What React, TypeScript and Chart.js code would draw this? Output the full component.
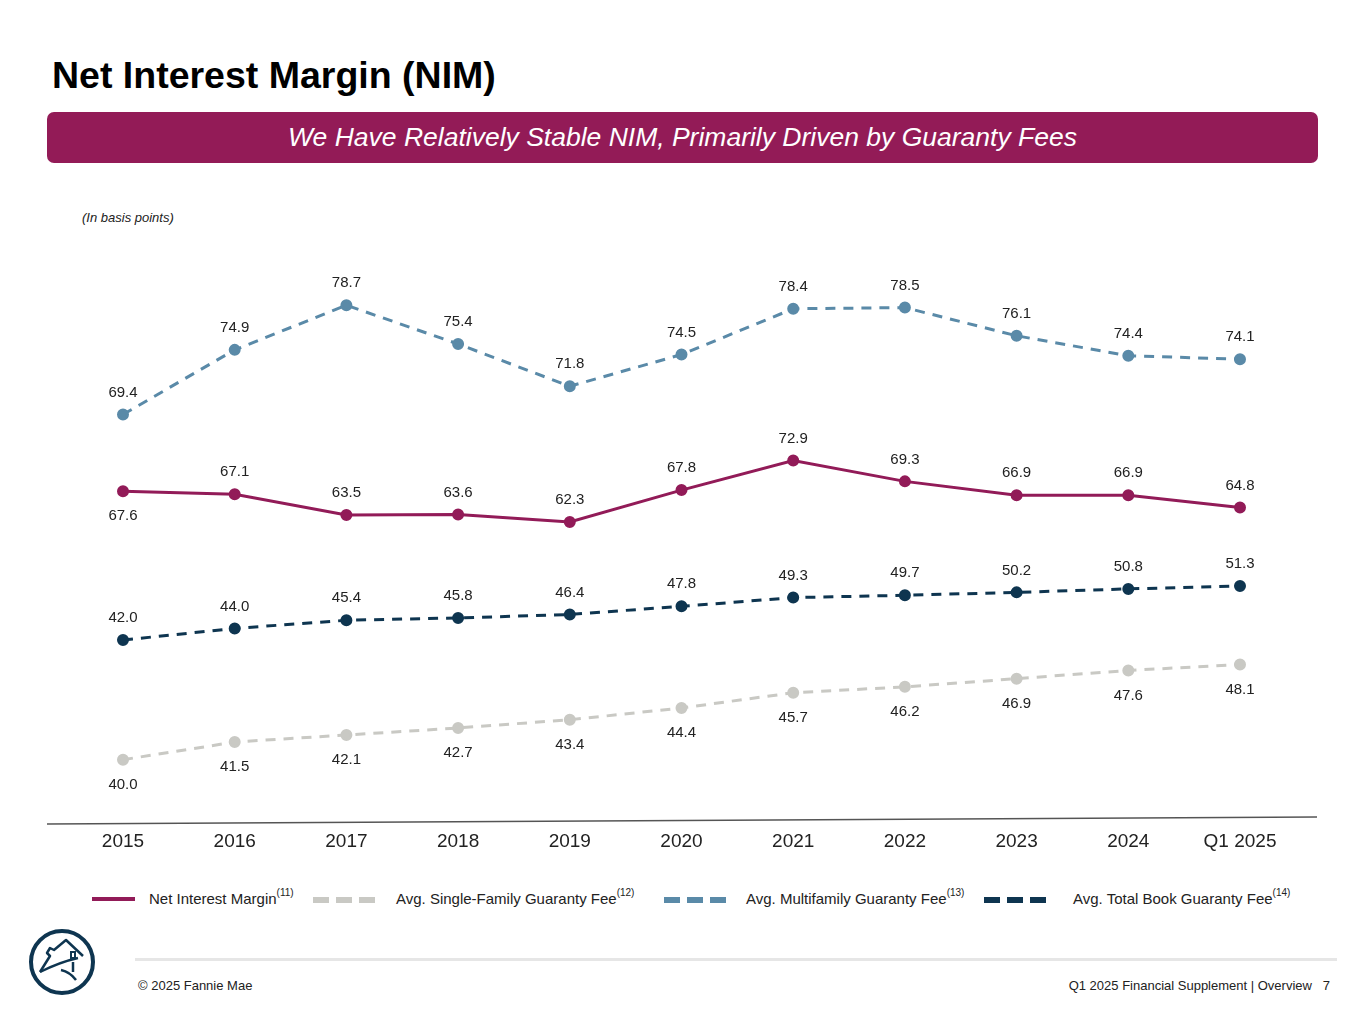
import React, { useEffect, useRef } from "react";
import { Chart, registerables } from "chart.js";

Chart.register(...registerables);

const categories = ["2015", "2016", "2017", "2018", "2019", "2020", "2021", "2022", "2023", "2024", "Q1 2025"];
const netInterestMargin = [67.6, 67.1, 63.5, 63.6, 62.3, 67.8, 72.9, 69.3, 66.9, 66.9, 64.8];
const singleFamilyFee = [40.0, 41.5, 42.1, 42.7, 43.4, 44.4, 45.7, 46.2, 46.9, 47.6, 48.1];
const multifamilyFee = [69.4, 74.9, 78.7, 75.4, 71.8, 74.5, 78.4, 78.5, 76.1, 74.4, 74.1];
const totalBookFee = [42.0, 44.0, 45.4, 45.8, 46.4, 47.8, 49.3, 49.7, 50.2, 50.8, 51.3];
// label placement per series: "above" | "below"
const nimLabelPos = ["below", "above", "above", "above", "above", "above", "above", "above", "above", "above", "above"];

const C_NIM = "#921B58";
const C_SF = "#C9C9C4";
const C_MF = "#5A8AA8";
const C_TB = "#0E3550";
const FONT = "Arial, 'Liberation Sans', Helvetica, sans-serif";

const labelPlugin = {
  id: "valueLabels",
  afterDatasetsDraw(chart: any) {
    const ctx = chart.ctx;
    ctx.save();
    ctx.font = `15px ${FONT}`;
    ctx.fillStyle = "#222";
    ctx.textAlign = "center";
    ctx.textBaseline = "middle";
    chart.data.datasets.forEach((ds: any, di: number) => {
      const meta = chart.getDatasetMeta(di);
      meta.data.forEach((pt: any, i: number) => {
        const pos = ds.labelPos[i];
        const dy = pos === "above" ? -22 : 25;
        ctx.fillText(Number(ds.data[i]).toFixed(1), pt.x, pt.y + dy);
      });
    });
    ctx.restore();
  },
  beforeDraw(chart: any) {
    const ctx = chart.ctx;
    ctx.save();
    ctx.strokeStyle = "#555";
    ctx.lineWidth = 1.6;
    ctx.beginPath();
    ctx.moveTo(47, 594);
    ctx.lineTo(1317, 587);
    ctx.stroke();
    ctx.restore();
  },
};

function LegendSwatch({ color, dashed }: { color: string; dashed: boolean }) {
  if (!dashed) {
    return <div style={{ width: 43, height: 4, background: color }} />;
  }
  return (
    <div style={{ display: "flex", gap: 7, width: 63 }}>
      <div style={{ width: 16, height: 6, background: color }} />
      <div style={{ width: 16, height: 6, background: color }} />
      <div style={{ width: 16, height: 6, background: color }} />
    </div>
  );
}

const legendItems = [
  { label: "Net Interest Margin", sup: "(11)", color: C_NIM, dashed: false, x: 92, tx: 149 },
  { label: "Avg. Single-Family Guaranty Fee", sup: "(12)", color: C_SF, dashed: true, x: 313, tx: 396 },
  { label: "Avg. Multifamily Guaranty Fee", sup: "(13)", color: C_MF, dashed: true, x: 664, tx: 746 },
  { label: "Avg. Total Book Guaranty Fee", sup: "(14)", color: C_TB, dashed: true, x: 984, tx: 1073 },
];

export default function App() {
  const canvasRef = useRef<HTMLCanvasElement | null>(null);

  useEffect(() => {
    const canvas = canvasRef.current;
    if (!canvas) return;
    const mk = (label: string, data: number[], color: string, axis: string, dash: number[], pos: string[]) => ({
      label,
      data,
      yAxisID: axis,
      borderColor: color,
      backgroundColor: color,
      pointBackgroundColor: color,
      pointBorderColor: color,
      borderWidth: 3,
      borderDash: dash,
      pointRadius: 4.5,
      pointHoverRadius: 4.5,
      tension: 0,
      fill: false,
      labelPos: pos,
    });
    const chart = new Chart(canvas, {
      type: "line",
      data: {
        labels: categories,
        datasets: [
          mk("Avg. Single-Family Guaranty Fee", singleFamilyFee, C_SF, "yB", [10, 8], singleFamilyFee.map(() => "below")),
          mk("Avg. Multifamily Guaranty Fee", multifamilyFee, C_MF, "yB", [10, 8], multifamilyFee.map(() => "above")),
          mk("Avg. Total Book Guaranty Fee", totalBookFee, C_TB, "yA", [10, 8], totalBookFee.map(() => "above")),
          mk("Net Interest Margin", netInterestMargin, C_NIM, "yA", [], nimLabelPos),
        ] as any,
      },
      options: {
        animation: false,
        responsive: false,
        maintainAspectRatio: false,
        layout: { padding: { left: 123, right: 125, top: 21, bottom: 6 } },
        plugins: { legend: { display: false }, tooltip: { enabled: false } },
        scales: {
          x: {
            type: "category",
            offset: false,
            grid: { display: false, drawTicks: false },
            border: { display: false },
            ticks: { color: "#222", font: { size: 19, family: FONT }, padding: 11, maxRotation: 0, autoSkip: false },
          },
          yA: { type: "linear", display: false, min: 11.17, max: 108.94 },
          yB: { type: "linear", display: false, min: 34.93, max: 83.32 },
        },
      },
      plugins: [labelPlugin],
    });
    return () => chart.destroy();
  }, []);

  return (
    <div style={{ position: "absolute", left: 0, top: 0, width: 1365, height: 1024, background: "#fff", fontFamily: FONT, overflow: "hidden" }}>
      <div style={{ position: "absolute", left: 52, top: 51, fontSize: 37.5, fontWeight: "bold", color: "#000", lineHeight: "48px" }}>
        Net Interest Margin (NIM)
      </div>
      <div
        style={{
          position: "absolute", left: 47, top: 112, width: 1271, height: 51, background: "#931B57", borderRadius: 7,
          color: "#fff", fontStyle: "italic", fontSize: 26.5, display: "flex", alignItems: "center", justifyContent: "center",
        }}
      >
        We Have Relatively Stable NIM, Primarily Driven by Guaranty Fees
      </div>
      <div style={{ position: "absolute", left: 82, top: 210, fontSize: 13, fontStyle: "italic", color: "#222" }}>
        (In basis points)
      </div>
      <canvas ref={canvasRef} width={1365} height={640} style={{ position: "absolute", left: 0, top: 230, width: 1365, height: 640 }} />
      {legendItems.map((it) => (
        <React.Fragment key={it.label}>
          <div style={{ position: "absolute", left: it.x, top: 897 }}>
            <LegendSwatch color={it.color} dashed={it.dashed} />
          </div>
          <div style={{ position: "absolute", left: it.tx, top: 890, fontSize: 15, color: "#222", whiteSpace: "nowrap" }}>
            {it.label}
            <sup style={{ fontSize: 10, verticalAlign: "top", position: "relative", top: -3 }}>{it.sup}</sup>
          </div>
        </React.Fragment>
      ))}
      <svg style={{ position: "absolute", left: 28, top: 928 }} width={70} height={70} viewBox="0 0 70 70">
        <circle cx={34} cy={34} r={31} fill="none" stroke={C_TB} strokeWidth={4} />
        <path d="M12 44 L22 28 L19 25 L22 20 L26 22 L38 12 L55 28" fill="none" stroke={C_TB} strokeWidth={2.5} strokeLinejoin="round" />
        <path d="M12 44 Q32 34 50 30" fill="none" stroke={C_TB} strokeWidth={2.5} />
        <path d="M33 42 Q42 44 48 52" fill="none" stroke={C_TB} strokeWidth={2.5} />
        <rect x={43} y={24} width={4} height={6} fill="none" stroke={C_TB} strokeWidth={2} />
        <path d="M45 34 L45 44" fill="none" stroke={C_TB} strokeWidth={2.5} />
      </svg>
      <div style={{ position: "absolute", left: 135, top: 958, width: 1202, height: 3, background: "#e6e6e6" }} />
      <div style={{ position: "absolute", left: 138, top: 978, fontSize: 13, color: "#222" }}>© 2025 Fannie Mae</div>
      <div style={{ position: "absolute", right: 35, top: 978, fontSize: 13, color: "#222", whiteSpace: "pre" }}>
        Q1 2025 Financial Supplement | Overview   7
      </div>
    </div>
  );
}
